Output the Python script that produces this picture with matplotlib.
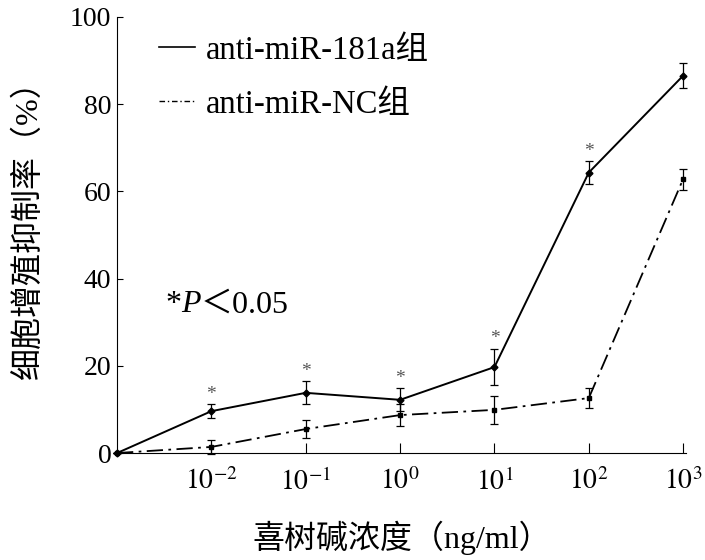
import numpy as np
import matplotlib
matplotlib.use("Agg")
from matplotlib import pyplot as plt
from matplotlib.lines import Line2D

plt.rcParams['font.family'] = ['Liberation Serif', 'Noto Sans CJK SC']
plt.rcParams['mathtext.fontset'] = 'stix'

# concentrations (ng/ml); first point is the untreated control at the origin
tick_labels = ['$10^{-2}$', '$10^{-1}$', '$10^{0}$', '$10^{1}$', '$10^{2}$', '$10^{3}$']
x_pos = np.arange(7)

mir181a = [0, 9.6, 13.8, 12.2, 19.7, 64.3, 86.5]
mir181a_err = [0, 1.6, 2.6, 2.6, 4.2, 2.6, 2.8]
mirnc = [0, 1.4, 5.5, 8.7, 9.9, 12.6, 62.8]
mirnc_err = [0, 1.6, 2.0, 2.6, 3.2, 2.2, 2.4]
sig = [False, True, True, True, True, True, False]

fig = plt.figure(figsize=(7.05, 5.6), dpi=100)
ax = fig.add_axes([0.166, 0.191, 0.807, 0.779])

ax.errorbar(x_pos, mir181a, yerr=mir181a_err, color='black', lw=1.4,
            marker='D', ms=3.5, capsize=3, elinewidth=0.9, capthick=0.9,
            clip_on=False, zorder=3)
ax.errorbar(x_pos, mirnc, yerr=mirnc_err, color='black', lw=1.3,
            ls=(0, (9, 3, 1.5, 3)), marker='s', ms=3.5, capsize=3,
            elinewidth=0.9, capthick=0.9, clip_on=False, zorder=3)

for xi, yi, ei, s in zip(x_pos, mir181a, mir181a_err, sig):
    if s:
        ax.annotate('*', (xi, yi + ei), xytext=(0, 1), textcoords='offset points',
                    ha='center', va='bottom', fontsize=14, color='#555555')

ax.set_xlim(0, 6.03)
ax.set_ylim(0, 100)
ax.set_xticks(x_pos[1:])
ax.set_xticklabels(tick_labels)
ax.set_yticks([0, 20, 40, 60, 80, 100])
ax.spines['top'].set_visible(False)
ax.spines['right'].set_visible(False)
ax.tick_params(axis='x', direction='in', length=7, labelsize=20, pad=11)
ax.tick_params(axis='y', direction='in', length=4, labelsize=20, pad=4)

ax.set_xlabel('喜树碱浓度（ng/ml）', fontsize=23, labelpad=18)
ax.set_ylabel('细胞增殖抑制率（%）', fontsize=23)
ax.yaxis.set_label_coords(-0.128, 0.53)

handles = [Line2D([], [], color='black', lw=1.2),
           Line2D([], [], color='black', lw=1.0, ls=(0, (4, 2, 1, 2)))]
ax.legend(handles, ['anti-miR-181a组', 'anti-miR-NC组'], loc='upper left',
          bbox_to_anchor=(0.022, 1.025), frameon=False, fontsize=23.5,
          handlelength=1.1, handletextpad=0.35, labelspacing=0.72)

# *P<0.05 note, pieced together so P can be italic
t1 = ax.text(0.085, 0.34, '*', transform=ax.transAxes, fontsize=23,
             ha='left', va='center')
fig.canvas.draw()
r = fig.canvas.get_renderer()
w1 = t1.get_window_extent(r).width
t2 = ax.annotate('P', (0.085, 0.34), xycoords='axes fraction',
                 xytext=(w1 * 72 / 100, 0), textcoords='offset points',
                 fontsize=23, style='italic', ha='left', va='center')
fig.canvas.draw()
w2 = t2.get_window_extent(r).width
ax.annotate('＜0.05', (0.085, 0.34), xycoords='axes fraction',
            xytext=((w1 + w2) * 72 / 100, 0), textcoords='offset points',
            fontsize=23, ha='left', va='center')

fig.savefig('out.png', dpi=100)
